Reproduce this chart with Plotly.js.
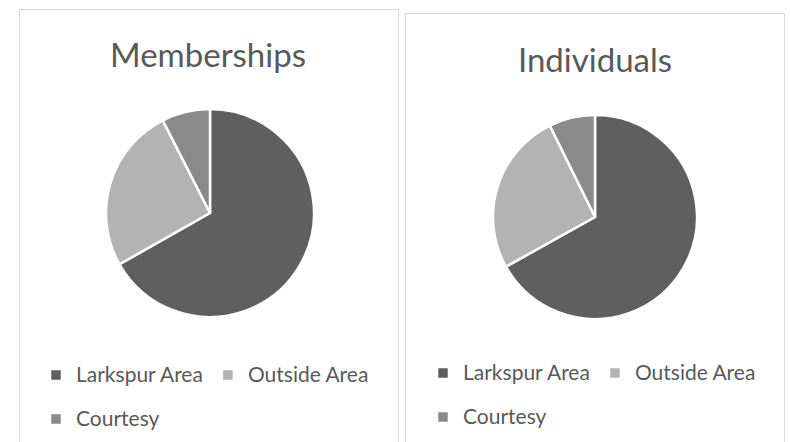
<!DOCTYPE html>
<html>
<head>
<meta charset="utf-8">
<script src="https://cdn.plot.ly/plotly-3.0.1.min.js"></script>
<style>
  html, body { margin:0; padding:0; width:790px; height:442px; overflow:hidden; background:#fff; }
  .panel { position:absolute; border:1px solid #d9d9d9; background:#fff; overflow:hidden; }
  #p1 { left:19px; top:9px; width:378px; height:460px; }
  #p2 { left:405px; top:13px; width:378px; height:460px; }
</style>
</head>
<body>
<div id="p1" class="panel"></div>
<div id="p2" class="panel"></div>
<script>
const categories = ["Larkspur Area", "Outside Area", "Courtesy"];
const membershipsValues = [66.8, 25.7, 7.5];
const individualsValues = [66.9, 25.8, 7.3];
const chartTitles = ["Memberships", "Individuals"];
const sliceColors = ["#5f5f5f", "#b3b3b3", "#8a8a8a"];

const FONT = "Lato, 'Noto Sans', sans-serif";
const TEXT = "#595959";
const W = 378, H = 460;

function draw(id, title, values, cfg) {
  const r = cfg.r;
  const trace = {
    type: 'pie',
    labels: categories.map(c => '<span style="font-size:21px;baseline-shift:5px">' + c + '</span>'),
    values: values,
    sort: false,
    direction: 'clockwise',
    rotation: 0,
    textinfo: 'none',
    hoverinfo: 'none',
    marker: { colors: sliceColors, line: { color: '#ffffff', width: 2.5 } },
    domain: {
      x: [(cfg.cx - r) / W, (cfg.cx + r) / W],
      y: [(H - cfg.cy - r) / H, (H - cfg.cy + r) / H]
    }
  };
  const layout = {
    width: W, height: H,
    margin: { l: 0, r: 0, t: 0, b: 0 },
    paper_bgcolor: '#ffffff',
    showlegend: true,
    title: {
      text: title,
      font: { family: FONT, size: 33, color: TEXT },
      x: cfg.tx / W, xanchor: 'center', xref: 'paper',
      y: 1 - cfg.ty / H, yanchor: 'middle', yref: 'container'
    },
    legend: {
      orientation: 'h',
      x: cfg.lx / W, xanchor: 'left',
      y: 1 - cfg.ly / H, yanchor: 'top',
      font: { family: FONT, size: 31.5, color: TEXT },
      bgcolor: 'rgba(0,0,0,0)'
    }
  };
  Plotly.newPlot(id, [trace], layout, { staticPlot: true, displayModeBar: false });
}

draw('p1', chartTitles[0], membershipsValues, { cx: 190, cy: 203, r: 104, tx: 188, ty: 45, lx: 16, ly: 338 });
draw('p2', chartTitles[1], individualsValues, { cx: 189, cy: 203, r: 102, tx: 189, ty: 46, lx: 17, ly: 332 });
</script>
</body>
</html>
